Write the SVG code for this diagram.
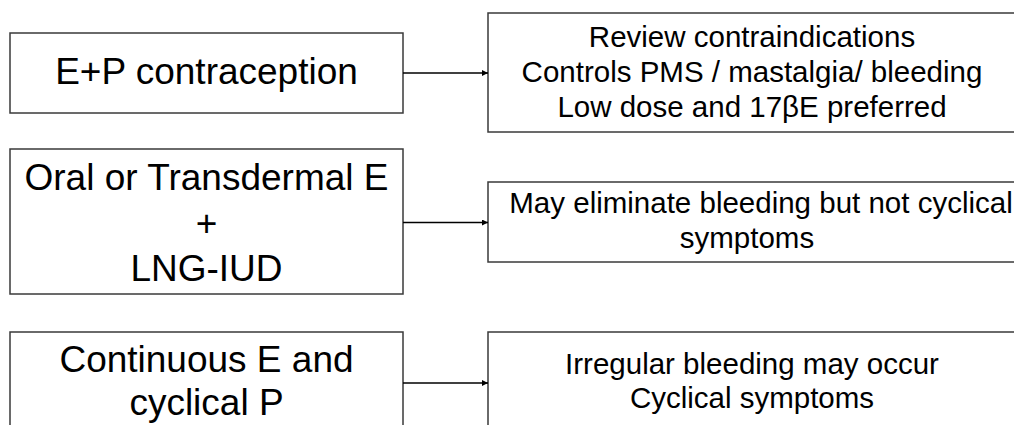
<svg xmlns="http://www.w3.org/2000/svg" width="1014" height="425" viewBox="0 0 1014 425">
<style>
.box{fill:#fff;stroke:#3a3a3a;stroke-width:1.5}
.lt{font-family:"Liberation Sans",Arial,sans-serif;font-size:37px;fill:#000;text-anchor:middle}
.rt{font-family:"Liberation Sans",Arial,sans-serif;font-size:29.5px;fill:#000;text-anchor:middle}
.conn{stroke:#000;stroke-width:1.5;fill:none}
</style>
<defs>
<marker id="ah" viewBox="0 0 10 10" refX="10" refY="5" markerWidth="6" markerHeight="6" markerUnits="userSpaceOnUse" orient="auto">
<path d="M0,0 L10,5 L0,10 z" fill="#000"/>
</marker>
</defs>
<rect width="1014" height="425" fill="#fff"/>
<g id="node-ep">
<rect class="box" x="10" y="33" width="393" height="80"/>
<text class="lt" x="206.5" y="84">E+P contraception</text>
</g>
<g id="node-ep-notes">
<rect class="box" x="488" y="13" width="540" height="119"/>
<text class="rt" x="752" y="47">Review contraindications</text>
<text class="rt" x="752" y="82">Controls PMS / mastalgia/ bleeding</text>
<text class="rt" x="752" y="117">Low dose and 17βE preferred</text>
</g>
<g id="node-iud">
<rect class="box" x="10" y="149" width="393" height="145"/>
<text class="lt" x="206.5" y="190">Oral or Transdermal E</text>
<text class="lt" x="206.5" y="235.5">+</text>
<text class="lt" x="206.5" y="281">LNG-IUD</text>
</g>
<g id="node-iud-notes">
<rect class="box" x="488" y="182" width="540" height="80"/>
<text class="rt" x="761" y="213">May eliminate bleeding but not cyclical</text>
<text class="rt" x="747" y="248">symptoms</text>
</g>
<g id="node-cont">
<rect class="box" x="10" y="332" width="393" height="120"/>
<text class="lt" x="206.5" y="372">Continuous E and</text>
<text class="lt" x="206.5" y="415">cyclical P</text>
</g>
<g id="node-cont-notes">
<rect class="box" x="488" y="332" width="540" height="120"/>
<text class="rt" x="752" y="374">Irregular bleeding may occur</text>
<text class="rt" x="752" y="408">Cyclical symptoms</text>
</g>
<g id="connectors">
<line class="conn" x1="403" y1="73" x2="488" y2="73" marker-end="url(#ah)"/>
<line class="conn" x1="403" y1="222.5" x2="488" y2="222.5" marker-end="url(#ah)"/>
<line class="conn" x1="403" y1="383" x2="488" y2="383" marker-end="url(#ah)"/>
</g>
</svg>
